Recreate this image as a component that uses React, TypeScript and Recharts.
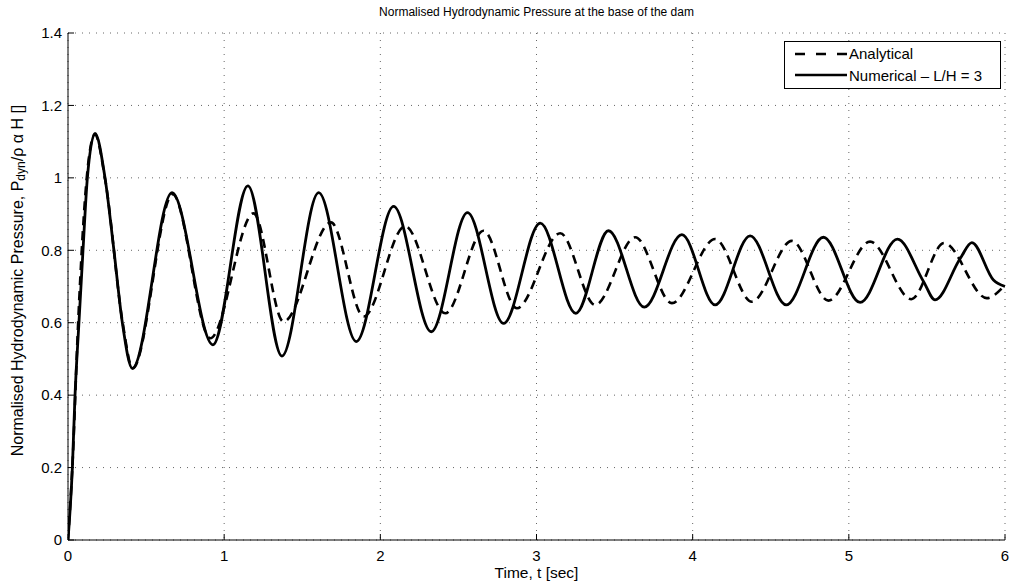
import React from "react"
import { LineChart, Line, XAxis, YAxis, CartesianGrid, Label } from "recharts"

const FONT = '"Liberation Sans", Arial, Helvetica, sans-serif'

// time [s] and normalised pressure (peaks, troughs, some points between)
const ANALYTICAL_T = [0, 0.03, 0.065, 0.12, 0.172, 0.24, 0.35, 0.414, 0.67, 0.911, 1.188, 1.38, 1.684, 1.893, 2.159, 2.416, 2.661, 2.874, 3.152, 3.376, 3.632, 3.867, 4.144, 4.379, 4.635, 4.869, 5.136, 5.4, 5.61, 5.883, 6]
const ANALYTICAL_P = [0, 0.22, 0.6, 1.0, 1.12, 0.99, 0.6, 0.474, 0.955, 0.557, 0.902, 0.603, 0.877, 0.617, 0.867, 0.626, 0.854, 0.64, 0.847, 0.649, 0.836, 0.654, 0.831, 0.658, 0.826, 0.661, 0.824, 0.665, 0.82, 0.668, 0.704]

const NUMERICAL_T = [0, 0.028, 0.045, 0.07, 0.096, 0.124, 0.173, 0.237, 0.294, 0.348, 0.412, 0.666, 0.928, 1.152, 1.37, 1.605, 1.846, 2.085, 2.326, 2.558, 2.789, 3.024, 3.252, 3.461, 3.69, 3.931, 4.144, 4.368, 4.599, 4.837, 5.072, 5.311, 5.478, 5.552, 5.714, 5.788, 5.926, 6]
const NUMERICAL_P = [0, 0.2, 0.4, 0.6, 0.8, 1.0, 1.123, 1.0, 0.8, 0.6, 0.474, 0.959, 0.539, 0.978, 0.508, 0.959, 0.548, 0.921, 0.575, 0.904, 0.598, 0.875, 0.626, 0.854, 0.643, 0.843, 0.649, 0.84, 0.649, 0.836, 0.656, 0.831, 0.714, 0.663, 0.778, 0.821, 0.718, 0.7]

const X_TICKS = [0, 1, 2, 3, 4, 5, 6]
const Y_TICKS = [0, 0.2, 0.4, 0.6, 0.8, 1, 1.2, 1.4]

const SERIES_NAMES = ["Analytical", "Numerical \u2013 L/H = 3"]
const TITLE = "Normalised Hydrodynamic Pressure at the base of the dam"

const analytical = ANALYTICAL_T.map((t, i) => ({ t, p: ANALYTICAL_P[i] }))
const numerical = NUMERICAL_T.map((t, i) => ({ t, p: NUMERICAL_P[i] }))

const YLabel = (props: any) => {
  const vb = props.viewBox || { x: 0, y: 0, width: 0, height: 0 }
  const cx = vb.x + 17
  const cy = vb.y + vb.height / 2 - 6
  return (
    <text x={cx} y={cy} transform={`rotate(-90 ${cx} ${cy})`} textAnchor="middle" dominantBaseline="central"
      fontFamily={FONT} fontSize={16} fill="#000">
      Normalised Hydrodynamic Pressure, P
      <tspan fontSize={12} dy={4}>dyn</tspan>
      <tspan fontSize={16} dy={-4}>/{"\u03c1 \u03b1"} H []</tspan>
    </text>
  )
}

const LegendBox = () => (
  <div style={{ position: "absolute", left: 784, top: 41, width: 217, border: "1px solid #000", background: "#fff",
    padding: "1px 0 2px 0", fontFamily: FONT, fontSize: 15, color: "#000", boxSizing: "border-box" }}>
    {SERIES_NAMES.map((name, i) => (
      <div key={name} style={{ display: "flex", alignItems: "center", height: 21.5 }}>
        <svg width={64} height={12} style={{ flex: "none" }}>
          <line x1={10} y1={6} x2={62} y2={6} stroke="#000" strokeWidth={2.6}
            strokeDasharray={i === 0 ? "10 11" : undefined} />
        </svg>
        <span style={{ whiteSpace: "nowrap" }}>{name}</span>
      </div>
    ))}
  </div>
)

export default function App() {
  return (
    <div style={{ position: "absolute", left: 0, top: 0, width: 1011, height: 588, background: "#fff" }}>
      <div style={{ position: "absolute", left: 68, top: 4, width: 937, textAlign: "center", fontFamily: FONT,
        fontSize: 12, lineHeight: "16px", color: "#000" }}>{TITLE}</div>
      <LineChart width={1011} height={588} margin={{ top: 33, right: 6, bottom: 0, left: 0 }}>
        <CartesianGrid stroke="#666" strokeDasharray="1 6" />
        <XAxis type="number" dataKey="t" domain={[0, 6]} ticks={X_TICKS} allowDataOverflow
          height={48} axisLine={{ stroke: "#000" }} tickLine={{ stroke: "#000" }} tickSize={-6} tickMargin={16}
          tick={{ fill: "#000", fontSize: 15, fontFamily: FONT }}>
          <Label value="Time, t [sec]" position="insideBottom" offset={10} fill="#000" fontSize={15.5} fontFamily={FONT} />
        </XAxis>
        <XAxis xAxisId="top" orientation="top" type="number" dataKey="t" domain={[0, 6]} ticks={X_TICKS} allowDataOverflow
          height={0} mirror tick={false} tickSize={6} axisLine={{ stroke: "#000" }} tickLine={{ stroke: "#000" }} />
        <YAxis type="number" domain={[0, 1.4]} ticks={Y_TICKS} allowDataOverflow width={68}
          axisLine={{ stroke: "#000" }} tickLine={{ stroke: "#000" }} tickSize={-6} tickMargin={12}
          tick={{ fill: "#000", fontSize: 15, fontFamily: FONT }} tickFormatter={(v: number) => String(v)}
          label={<YLabel />} />
        <YAxis yAxisId="right" orientation="right" type="number" domain={[0, 1.4]} ticks={Y_TICKS} allowDataOverflow
          width={0} mirror tick={false} tickSize={6} axisLine={{ stroke: "#000" }} tickLine={{ stroke: "#000" }} />
        <Line data={analytical} dataKey="p" name={SERIES_NAMES[0]} type="monotone" stroke="#000" strokeWidth={2.6}
          strokeDasharray="9 6" dot={false} activeDot={false} isAnimationActive={false} />
        <Line data={numerical} dataKey="p" name={SERIES_NAMES[1]} type="monotone" stroke="#000" strokeWidth={2.8}
          dot={false} activeDot={false} isAnimationActive={false} />
      </LineChart>
      <LegendBox />
    </div>
  )
}
